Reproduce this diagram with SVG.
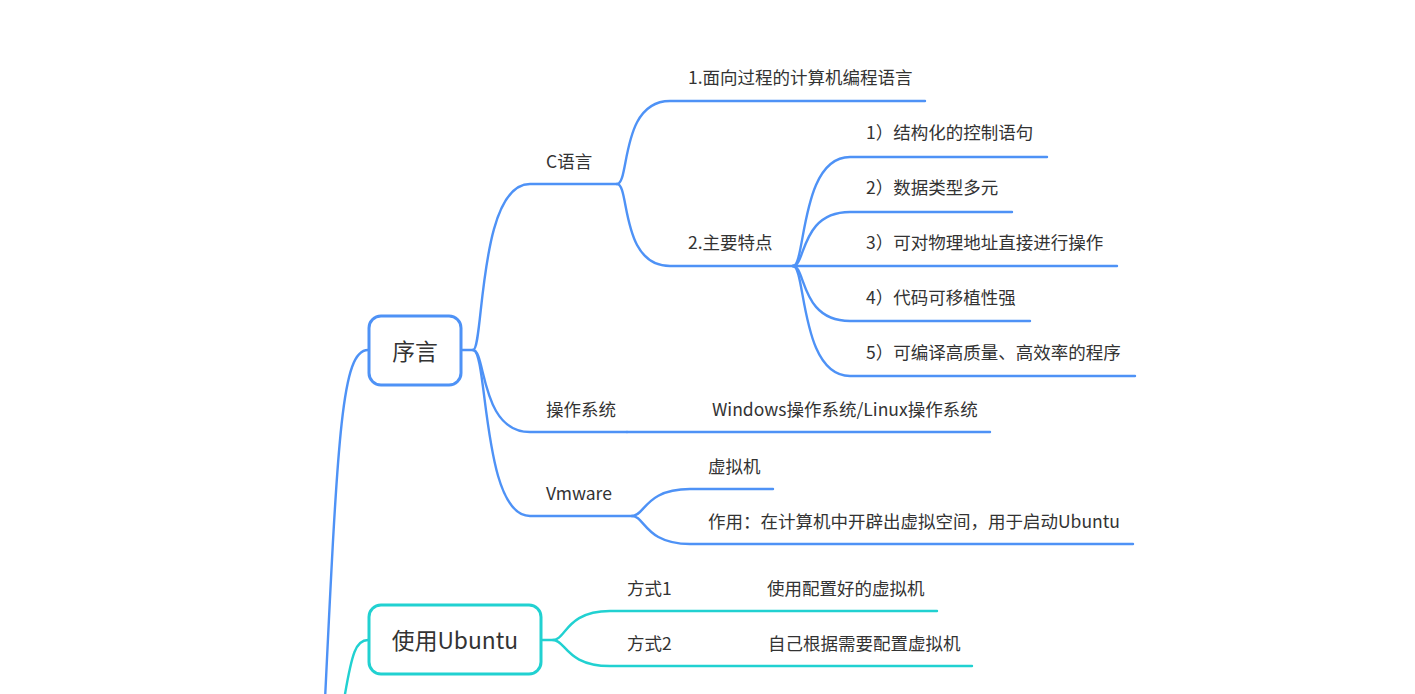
<svg xmlns="http://www.w3.org/2000/svg" width="1415" height="694" viewBox="0 0 1415 694">
<style>
.t{font-family:"Noto Sans CJK SC","Noto Sans",sans-serif;font-size:17.5px;fill:#333333}
.tb{font-family:"Noto Sans CJK SC","Noto Sans",sans-serif;font-size:22.8px;fill:#333333;text-anchor:middle}
.b{fill:none;stroke:#4E92F6;stroke-width:2.4;stroke-linecap:round}
.g{fill:none;stroke:#21D1D1;stroke-width:2.4;stroke-linecap:round}
</style>
<rect width="1415" height="694" fill="#ffffff"/>
<g id="connectors">
<path class="b" d="M325 700 C338 430 342 350 368 350"/>
<path class="g" d="M344 700 C352 652 356 640 368 640"/>
<path class="b" d="M461 350 L473 350 C484 350 478 184 530 184 L617 184"/>
<path class="b" d="M473 350 C486 350 480 432 530 432 L627 432"/>
<path class="b" d="M473 350 C488 350 482 516 530 516 L632 516"/>
<path class="b" d="M617 184 C630 184 620 101 670 101 L925 101"/>
<path class="b" d="M617 184 C630 184 620 266 670 266 L793 266"/>
<path class="b" d="M793 266 C806 266 800 157 850 157 L1047 157"/>
<path class="b" d="M793 266 C806 266 800 212 850 212 L1012 212"/>
<path class="b" d="M793 266 L1117 266"/>
<path class="b" d="M793 266 C806 266 800 321 850 321 L1030 321"/>
<path class="b" d="M793 266 C806 266 800 376 850 376 L1135 376"/>
<path class="b" d="M627 432 L990 432"/>
<path class="b" d="M632 516 C645 516 645 489 690 489 L773 489"/>
<path class="b" d="M632 516 C645 516 645 544 690 544 L1133 544"/>
<path class="g" d="M541 640 L553 640 C566 640 566 611 610 611 L937 611"/>
<path class="g" d="M553 640 C566 640 566 666 610 666 L972 666"/>
</g>
<g id="n-xuyan">
<rect x="369" y="316" width="92" height="69" rx="12" fill="#ffffff" stroke="#4E92F6" stroke-width="3"/>
<text class="tb" x="415" y="360">序言</text>
</g>
<g id="n-ubuntu">
<rect x="369" y="605" width="172" height="69" rx="12" fill="#ffffff" stroke="#21D1D1" stroke-width="3"/>
<text class="tb" x="455" y="649">使用Ubuntu</text>
</g>
<g id="n-c"><text class="t" x="546" y="168">C语言</text></g>
<g id="n-c1"><text class="t" x="688" y="84">1.面向过程的计算机编程语言</text></g>
<g id="n-c2"><text class="t" x="688" y="249">2.主要特点</text></g>
<g id="n-f1"><text class="t" x="866" y="139">1）结构化的控制语句</text></g>
<g id="n-f2"><text class="t" x="866" y="194">2）数据类型多元</text></g>
<g id="n-f3"><text class="t" x="866" y="249">3）可对物理地址直接进行操作</text></g>
<g id="n-f4"><text class="t" x="866" y="304">4）代码可移植性强</text></g>
<g id="n-f5"><text class="t" x="866" y="359">5）可编译高质量、高效率的程序</text></g>
<g id="n-os"><text class="t" x="546" y="416">操作系统</text></g>
<g id="n-os1"><text class="t" x="712" y="416">Windows操作系统/Linux操作系统</text></g>
<g id="n-vm"><text class="t" x="546" y="500">Vmware</text></g>
<g id="n-vm1"><text class="t" x="708" y="473">虚拟机</text></g>
<g id="n-vm2"><text class="t" x="708" y="528">作用：在计算机中开辟出虚拟空间，用于启动Ubuntu</text></g>
<g id="n-m1"><text class="t" x="627" y="595">方式1</text></g>
<g id="n-m1a"><text class="t" x="767" y="595">使用配置好的虚拟机</text></g>
<g id="n-m2"><text class="t" x="627" y="650">方式2</text></g>
<g id="n-m2a"><text class="t" x="768" y="650">自己根据需要配置虚拟机</text></g>
</svg>
